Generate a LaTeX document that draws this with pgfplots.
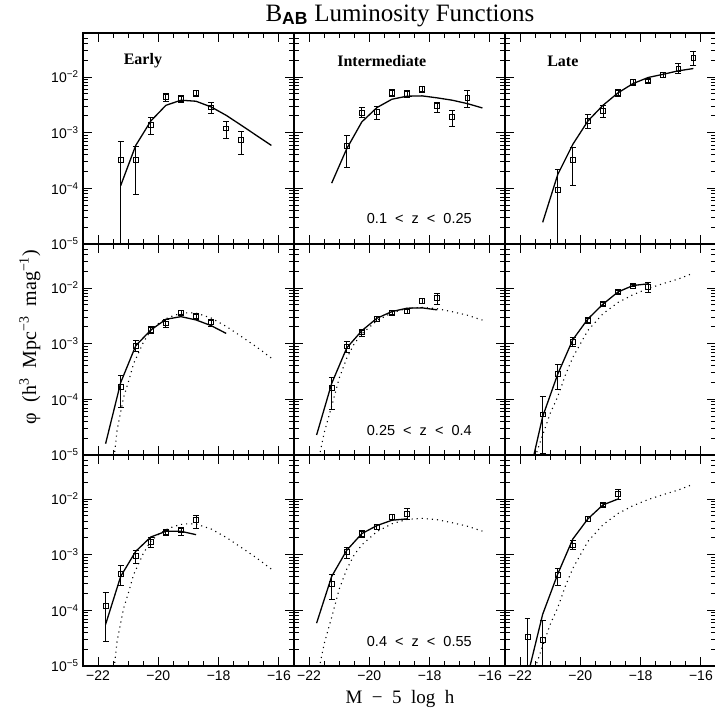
\documentclass[border=0pt]{standalone}
\usepackage{fontspec}
\setmainfont{Liberation Serif}
\setsansfont{Liberation Sans}
\usepackage{pgfplots}
\pgfplotsset{compat=1.18}
\usepgfplotslibrary{groupplots}

\pgfplotsset{
 pts/.style={only marks, mark=square, mark size=2.4pt, mark options={line width=0.7pt, fill=none, solid}, black,
   error bars/.cd, y dir=both, y explicit, error bar style={line width=0.8pt, solid}, error mark options={rotate=90, line width=0.8pt, mark size=2.9pt, solid}},
 fit/.style={black, line width=1.3pt, no marks},
 zfit/.style={black, line width=1.1pt, no marks, dash pattern=on 1.1pt off 4pt},
}
\tikzset{
 lab/.style={font=\bfseries\fontsize{16}{16}\selectfont},
 zlab/.style={font=\sffamily\fontsize{14.5}{14.5}\selectfont},
}

% dotted reference fits (low-z fits)
\pgfplotstableread{
x y
-21.55 4e-6
-21.46 1e-5
-21.37 2.75e-5
-21.25 5.9e-5
-21.15 1.1e-4
-21.0 2.0e-4
-20.82 4.4e-4
-20.75 5.3e-4
-20.5 1.05e-3
-20.25 1.75e-3
-20.0 2.3e-3
-19.75 2.8e-3
-19.5 3.2e-3
-19.25 3.5e-3
-19.0 3.6e-3
-18.75 3.55e-3
-18.25 2.9e-3
-17.75 2.05e-3
-17.25 1.35e-3
-16.75 8.8e-4
-16.25 5.5e-4
}\dotE
\pgfplotstableread{
x y
-21.75 4e-6
-21.65 1e-5
-21.5 2.5e-5
-21.25 7.5e-5
-21.0 2.4e-4
-20.75 5.5e-4
-20.5 1.0e-3
-20.25 1.5e-3
-19.75 2.6e-3
-19.25 3.6e-3
-18.75 4.3e-3
-18.25 4.5e-3
-17.75 4.25e-3
-17.25 3.75e-3
-16.75 3.25e-3
-16.25 2.65e-3
}\dotI
\pgfplotstableread{
x y
-21.6 4e-6
-21.48 1e-5
-21.25 2.3e-5
-21.0 5.6e-5
-20.75 1.12e-4
-20.5 2.7e-4
-20.25 5.7e-4
-19.75 1.73e-3
-19.25 3.45e-3
-18.75 5.5e-3
-18.25 7.6e-3
-17.75 9.8e-3
-17.25 1.2e-2
-16.75 1.45e-2
-16.25 1.85e-2
}\dotL

\begin{document}
\begin{tikzpicture}
\begin{groupplot}[
  group style={group size=3 by 3, horizontal sep=0pt, vertical sep=0pt, group name=G,
    xticklabels at=edge bottom, yticklabels at=edge left},
  scale only axis, width=211pt, height=211pt,
  xmin=-22.5, xmax=-15.5, ymode=log, ymin=1e-5, ymax=0.0617,
  xtick={-22,-20,-18,-16}, xticklabels={−22,−20,−18,−16},
  minor xtick={-22.5,-22,...,-15.5},
  ytick={1e-5,1e-4,1e-3,1e-2},
  yticklabels={10\textsuperscript{−5},10\textsuperscript{−4},10\textsuperscript{−3},10\textsuperscript{−2}},
  minor ytick={2e-5,3e-5,4e-5,5e-5,6e-5,7e-5,8e-5,9e-5,2e-4,3e-4,4e-4,5e-4,6e-4,7e-4,8e-4,9e-4,2e-3,3e-3,4e-3,5e-3,6e-3,7e-3,8e-3,9e-3,2e-2,3e-2,4e-2,5e-2,6e-2},
  major tick length=9pt, minor tick length=5pt,
  tick pos=both, tick align=inside,
  axis line style={line width=1.8pt},
  every tick/.style={black, line width=0.9pt},
  tick label style={font=\sffamily\fontsize{14}{14}\selectfont},
  xticklabel style={yshift=-1pt},
  yticklabel style={xshift=-1pt},
]
% ---------- row 1: 0.1 < z < 0.25
\nextgroupplot
\addplot[fit] coordinates {(-21.25,1.12e-4) (-20.75,5.9e-4) (-20.25,1.62e-3) (-19.75,3.1e-3) (-19.25,3.83e-3) (-18.75,3.67e-3) (-18.25,2.9e-3) (-17.75,2.05e-3) (-17.25,1.36e-3) (-16.75,8.95e-4) (-16.25,5.9e-4)};
\addplot[pts] table[x=x,y=y,y error plus expr=\thisrow{hi}-\thisrow{y},y error minus expr=\thisrow{y}-\thisrow{lo}] {
x y hi lo
-21.25 3.26e-4 6.9e-4 1e-7
-20.75 3.26e-4 5.75e-4 7.7e-5
-20.25 1.39e-3 1.86e-3 9.2e-4
-19.75 4.34e-3 4.98e-3 3.72e-3
-19.25 4.1e-3 4.58e-3 3.57e-3
-18.75 5.19e-3 5.8e-3 4.52e-3
-18.25 2.86e-3 3.43e-3 2.26e-3
-17.75 1.2e-3 1.58e-3 7.8e-4
-17.25 7.4e-4 1.06e-3 4.07e-4
};
\node[lab] at (rel axis cs:0.284,0.867) {Early};

\nextgroupplot
\addplot[fit] coordinates {(-21.25,1.24e-4) (-20.75,5.15e-4) (-20.25,1.56e-3) (-19.75,2.82e-3) (-19.25,3.99e-3) (-18.75,4.52e-3) (-18.25,4.58e-3) (-17.75,4.22e-3) (-17.25,3.83e-3) (-16.75,3.33e-3) (-16.25,2.78e-3)};
\addplot[pts] table[x=x,y=y,y error plus expr=\thisrow{hi}-\thisrow{y},y error minus expr=\thisrow{y}-\thisrow{lo}] {
x y hi lo
-20.75 5.75e-4 8.8e-4 2.4e-4
-20.25 2.29e-3 2.9e-3 1.86e-3
-19.75 2.35e-3 2.98e-3 1.74e-3
-19.25 5.26e-3 5.96e-3 4.52e-3
-18.75 5.05e-3 5.8e-3 4.27e-3
-18.25 6.04e-3 6.84e-3 5.26e-3
-17.75 3.02e-3 3.57e-3 2.29e-3
-17.25 1.91e-3 2.52e-3 1.32e-3
-16.75 4.27e-3 5.64e-3 2.82e-3
};
\node[lab] at (rel axis cs:0.416,0.867) {Intermediate};
\node[zlab] at (rel axis cs:0.594,0.123) {0.1 ~<~ z ~<~ 0.25};

\nextgroupplot
\addplot[fit] coordinates {(-21.25,2.45e-5) (-20.75,1.77e-4) (-20.25,6.17e-4) (-19.75,1.62e-3) (-19.25,3.1e-3) (-18.75,5.19e-3) (-18.25,7.64e-3) (-17.75,9.8e-3) (-17.25,1.12e-2) (-16.75,1.29e-2) (-16.25,1.42e-2)};
\addplot[pts] table[x=x,y=y,y error plus expr=\thisrow{hi}-\thisrow{y},y error minus expr=\thisrow{y}-\thisrow{lo}] {
x y hi lo
-20.75 9.5e-5 2.15e-4 1e-7
-20.25 3.26e-4 5.5e-4 1.12e-4
-19.75 1.62e-3 2.11e-3 1.18e-3
-19.25 2.45e-3 3.1e-3 1.91e-3
-18.75 5.12e-3 5.96e-3 4.4e-3
-18.25 8.07e-3 9.0e-3 7.13e-3
-17.75 8.53e-3 9.2e-3 7.9e-3
-17.25 1.08e-2 1.21e-2 9.66e-3
-16.75 1.42e-2 1.75e-2 1.16e-2
-16.25 2.24e-2 2.84e-2 1.63e-2
};
\node[lab] at (rel axis cs:0.274,0.867) {Late};

% ---------- row 2: 0.25 < z < 0.4
\nextgroupplot
\addplot[zfit] table[x=x,y=y] {\dotE};
\addplot[fit] coordinates {(-21.75,1.6e-5) (-21.25,2.0e-4) (-20.75,9.2e-4) (-20.25,1.76e-3) (-19.75,2.74e-3) (-19.25,3.06e-3) (-18.75,2.67e-3) (-18.25,2.11e-3) (-17.75,1.53e-3)};
\addplot[pts] table[x=x,y=y,y error plus expr=\thisrow{hi}-\thisrow{y},y error minus expr=\thisrow{y}-\thisrow{lo}] {
x y hi lo
-21.25 1.70e-4 2.65e-4 7.3e-5
-20.75 9.2e-4 1.13e-3 7.3e-4
-20.25 1.79e-3 2.05e-3 1.56e-3
-19.75 2.32e-3 2.74e-3 1.97e-3
-19.25 3.62e-3 4.0e-3 3.29e-3
-18.75 3.1e-3 3.5e-3 2.75e-3
-18.25 2.42e-3 2.78e-3 2.08e-3
};

\nextgroupplot
\addplot[zfit] table[x=x,y=y] {\dotI};
\addplot[fit] coordinates {(-21.75,2.29e-5) (-21.25,1.93e-4) (-20.75,8.4e-4) (-20.25,1.71e-3) (-19.75,2.86e-3) (-19.25,3.78e-3) (-18.75,4.34e-3) (-18.25,4.4e-3) (-17.75,4.05e-3)};
\addplot[pts] table[x=x,y=y,y error plus expr=\thisrow{hi}-\thisrow{y},y error minus expr=\thisrow{y}-\thisrow{lo}] {
x y hi lo
-21.25 1.59e-4 2.47e-4 6.65e-5
-20.75 8.95e-4 1.10e-3 6.98e-4
-20.25 1.6e-3 1.84e-3 1.34e-3
-19.75 2.78e-3 3.05e-3 2.52e-3
-19.25 3.62e-3 3.99e-3 3.29e-3
-18.75 3.83e-3 4.17e-3 3.5e-3
-18.25 5.8e-3 6.4e-3 5.3e-3
-17.75 6.56e-3 8.07e-3 5.05e-3
};
\node[zlab] at (rel axis cs:0.594,0.118) {0.25 ~<~ z ~<~ 0.4};

\nextgroupplot
\addplot[zfit] table[x=x,y=y] {\dotL};
\addplot[fit] coordinates {(-21.75,3.2e-6) (-21.25,4.9e-5) (-20.75,2.84e-4) (-20.25,1.18e-3) (-19.75,2.78e-3) (-19.25,5.12e-3) (-18.75,8.5e-3) (-18.25,1.11e-2) (-17.75,1.19e-2)};
\addplot[pts] table[x=x,y=y,y error plus expr=\thisrow{hi}-\thisrow{y},y error minus expr=\thisrow{y}-\thisrow{lo}] {
x y hi lo
-21.25 5.4e-5 1.12e-4 1.05e-5
-20.75 2.84e-4 4.19e-4 1.52e-4
-20.25 1.07e-3 1.30e-3 8.95e-4
-19.75 2.63e-3 3.0e-3 2.3e-3
-19.25 5.12e-3 5.5e-3 4.8e-3
-18.75 8.4e-3 8.9e-3 7.9e-3
-18.25 1.11e-2 1.17e-2 1.05e-2
-17.75 1.05e-2 1.27e-2 8.4e-3
};

% ---------- row 3: 0.4 < z < 0.55
\nextgroupplot
\addplot[zfit] table[x=x,y=y] {\dotE};
\addplot[fit] coordinates {(-21.75,5.6e-5) (-21.25,4.07e-4) (-20.75,1.15e-3) (-20.25,2.08e-3) (-19.75,2.63e-3) (-19.25,2.63e-3) (-18.75,2.29e-3)};
\addplot[pts] table[x=x,y=y,y error plus expr=\thisrow{hi}-\thisrow{y},y error minus expr=\thisrow{y}-\thisrow{lo}] {
x y hi lo
-21.75 1.2e-4 2.12e-4 2.78e-5
-21.25 4.55e-4 6.34e-4 2.8e-4
-20.75 9.6e-4 1.2e-3 7.1e-4
-20.25 1.69e-3 2.03e-3 1.38e-3
-19.75 2.52e-3 2.86e-3 2.2e-3
-19.25 2.74e-3 3.15e-3 2.2e-3
-18.75 4.16e-3 5.05e-3 3.02e-3
};

\nextgroupplot
\addplot[zfit] table[x=x,y=y] {\dotI};
\addplot[fit] coordinates {(-21.75,5.9e-5) (-21.25,4.07e-4) (-20.75,1.2e-3) (-20.25,2.39e-3) (-19.75,3.33e-3) (-19.25,4.16e-3) (-18.75,4.4e-3)};
\addplot[pts] table[x=x,y=y,y error plus expr=\thisrow{hi}-\thisrow{y},y error minus expr=\thisrow{y}-\thisrow{lo}] {
x y hi lo
-21.25 3.0e-4 4.36e-4 1.59e-4
-20.75 1.12e-3 1.37e-3 8.7e-4
-20.25 2.39e-3 2.75e-3 2.07e-3
-19.75 3.15e-3 3.45e-3 2.9e-3
-19.25 4.78e-3 5.25e-3 4.35e-3
-18.75 5.48e-3 6.75e-3 4.27e-3
};
\node[zlab] at (rel axis cs:0.594,0.115) {0.4 ~<~ z ~<~ 0.55};

\nextgroupplot
\addplot[zfit] table[x=x,y=y] {\dotL};
\addplot[fit] coordinates {(-21.75,6.6e-6) (-21.25,8.5e-5) (-20.75,4.5e-4) (-20.25,1.91e-3) (-19.75,4.4e-3) (-19.25,7.85e-3) (-18.75,1.0e-2)};
\addplot[pts] table[x=x,y=y,y error plus expr=\thisrow{hi}-\thisrow{y},y error minus expr=\thisrow{y}-\thisrow{lo}] {
x y hi lo
-21.75 3.33e-5 7.2e-5 1e-7
-21.25 2.94e-5 6.7e-5 1e-7
-20.75 4.3e-4 5.67e-4 2.84e-4
-20.25 1.47e-3 1.77e-3 1.23e-3
-19.75 4.4e-3 4.8e-3 4.0e-3
-19.25 7.85e-3 8.3e-3 7.4e-3
-18.75 1.24e-2 1.49e-2 1.0e-2
};
\end{groupplot}
\node[anchor=base, font=\fontsize{25}{25}\selectfont] at ([xshift=317pt,yshift=12pt]G c1r1.north west) {B\textsubscript{\sffamily\bfseries AB} Luminosity Functions};
\node[anchor=base, font=\fontsize{19}{19}\selectfont] at ([xshift=317pt,yshift=-670pt]G c1r1.north west) {M\enspace −\enspace 5\enspace log\enspace h};
\node[rotate=90, anchor=center, font=\fontsize{20}{20}\selectfont] at ([xshift=-53pt,yshift=-304pt]G c1r1.north west) {φ\enspace (h\textsuperscript{3}\enspace Mpc\textsuperscript{−3}\enspace mag\textsuperscript{−1})};
\pgfresetboundingbox
\path (G c1r1.north west) ++(-83pt,33pt) rectangle ++(715pt,-716pt);
\end{tikzpicture}
\end{document}
